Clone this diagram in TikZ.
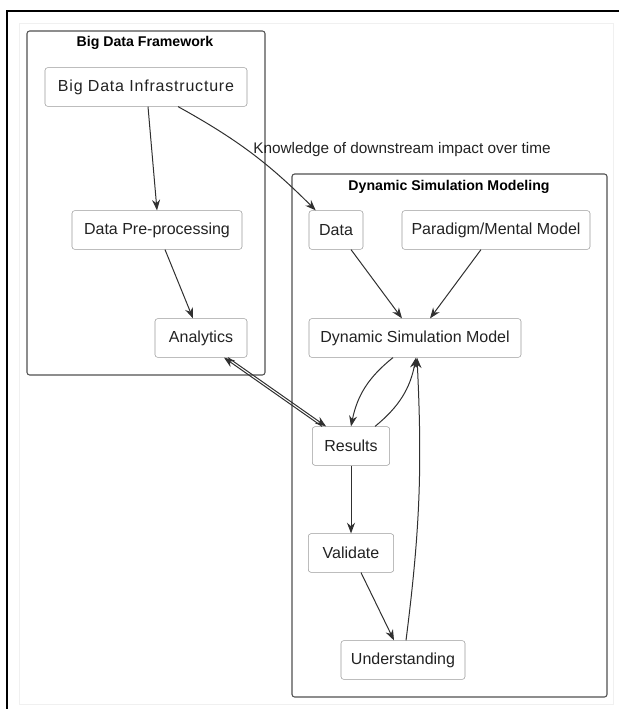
\documentclass[tikz,border=0pt]{standalone}
\usepackage{fontspec}
\setmainfont{Liberation Sans}
\usepackage{tikz}
\usetikzlibrary{shapes,arrows.meta,positioning,calc}
\definecolor{boxgray}{HTML}{9A9A9A}
\definecolor{clustergray}{HTML}{505050}
\definecolor{edgegray}{HTML}{303030}
\definecolor{textgray}{HTML}{222222}

\begin{document}
\begin{tikzpicture}[x=0.75pt,y=-0.75pt,
  box/.style={draw=boxgray,rounded corners=2pt,minimum height=29pt,inner sep=0pt,
    font=\fontsize{12}{14}\selectfont,text=textgray},
  arr/.style={-{Stealth[length=8pt,width=6pt]},line width=0.75pt,draw=edgegray},
  cluster/.style={draw=clustergray,line width=0.8pt,rounded corners=2pt},
  title/.style={font=\bfseries\fontsize{10.6}{12}\selectfont,text=black}]
  \useasboundingbox (0,0) rectangle (619,709);

  % Frame
  \draw[gray!12] (19,23) rectangle (613,704);
  \draw[line width=1.5pt] (619,11) -- (7,11) -- (7,709);

  % Left: Big Data Framework
  \draw[cluster] (27,31) rectangle (265,375);
  \node[title] (bdftitle) at (145,43) {Big Data Framework};
  \node[box,minimum width=151.5pt,font=\fontsize{12}{14}\selectfont\addfontfeatures{LetterSpace=5}] (bdi) at (146,87) {Big Data Infrastructure};
  \node[box,minimum width=127.5pt] (dpp) at (157,230) {Data Pre-processing};
  \node[box,minimum width=69pt] (ana) at (201,338) {Analytics};

  % Right: Dynamic Simulation Modeling
  \draw[cluster] (292,174) rectangle (607,697);
  \node[title] (dsmtitle) at (449,187) {Dynamic Simulation Modeling};
  \node[box,minimum width=40.5pt] (data) at (336,230) {Data};
  \node[box,minimum width=141pt] (pmm) at (496,230) {Paradigm/Mental Model};
  \node[box,minimum width=159pt] (dsm) at (415,338) {Dynamic Simulation Model};
  \node[box,minimum width=58pt] (res) at (351,446) {Results};
  \node[box,minimum width=64pt] (val) at (351,553) {Validate};
  \node[box,minimum width=93pt] (und) at (403,660) {Understanding};

  % Edge label
  \node[font=\fontsize{11.5}{13}\selectfont,text=textgray] (knw) at (402,150) {Knowledge of downstream impact over time};

  % Arrows
  \draw[arr] ($(bdi.south)+(2,0)$) -- (dpp.north);
  \draw[arr] ($(bdi.south)+(32,0)$) to[bend left=8] ($(data.north west)+(7,0)$);
  \draw[arr] ($(dpp.south)+(8,0)$) -- ($(ana.north)+(-8,0)$);
  \draw[arr] ($(data.south)+(15,0)$) -- ($(dsm.north)+(-13,0)$);
  \draw[arr] ($(pmm.south)+(-15,0)$) -- ($(dsm.north)+(15,0)$);
  \draw[arr] ($(dsm.south)+(-22,0)$) to[bend right=20] (res.north);
  \draw[arr] ($(res.north)+(24,0)$) to[bend right=20] ($(dsm.south)+(1,0)$);
  \draw[arr] ($(und.north)+(3,0)$) to[bend right=5] ($(dsm.south)+(2,0)$);
  \draw[arr] (res.south) -- (val.north);
  \draw[arr] ($(val.south)+(10,0)$) -- ($(und.north)+(-9,0)$);
  \draw[arr] ($(res.north west)+(10,0)$) -- ($(ana.south)+(23,0)$);
  \draw[arr] ($(ana.south)+(27,0)$) -- ($(res.north west)+(14,0)$);
\end{tikzpicture}
\end{document}
